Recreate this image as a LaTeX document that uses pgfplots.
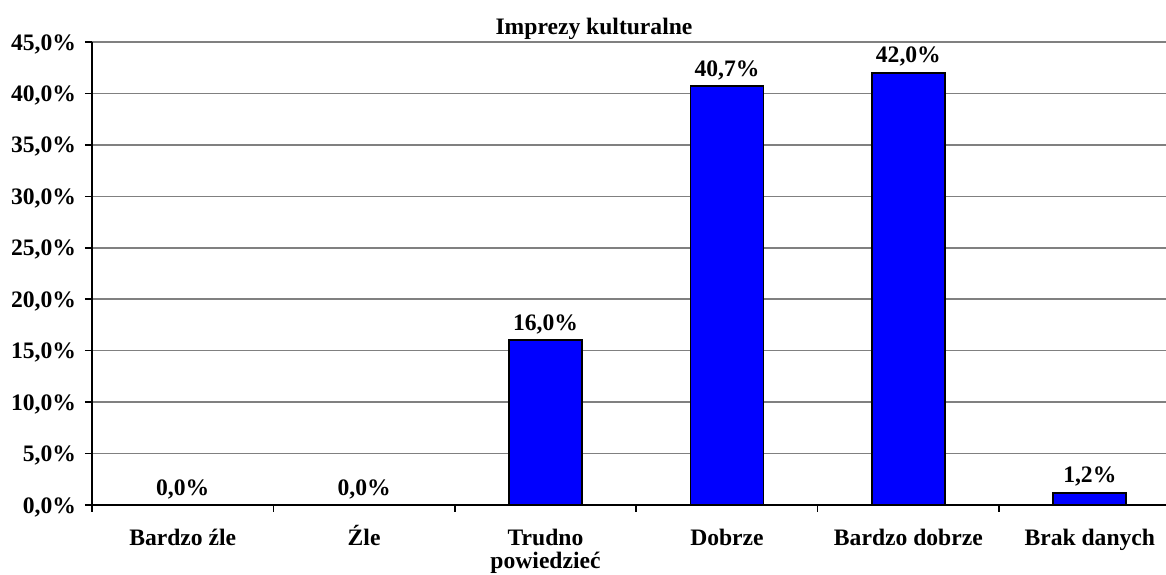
\documentclass[border=0pt]{standalone}
\usepackage{pgfplots}
\pgfplotsset{compat=1.18}
\usepackage{fontspec}
\setmainfont{Liberation Serif}
\definecolor{barblue}{RGB}{0,0,255}
\definecolor{gridgray}{RGB}{128,128,128}
\begin{document}
\begin{tikzpicture}
\begin{axis}[
  at={(0,0)}, anchor=south west,
  scale only axis, width=537pt, height=231.5pt,
  xmin=-0.5, xmax=5.42, ymin=0, ymax=45,
  axis x line=bottom, axis y line=left,
  axis line style={-, black, line width=0.8pt},
  ytick={0,5,...,45},
  ymajorgrids, grid style={gridgray, line width=0.8pt},
  tick align=outside, major tick length=3.5pt,
  ytick style={black, line width=0.8pt},
  xtick={0,1,2,3,4,5},
  xtick style={draw=none},
  xticklabels={Bardzo źle, Źle, {\begin{tabular}[t]{@{}c@{}}Trudno\\powiedzieć\end{tabular}}, Dobrze, Bardzo dobrze, Brak danych},
  xticklabel style={font=\fontsize{11.8}{11.8}\selectfont\bfseries, anchor=base, yshift=-16.5pt},
  /pgf/number format/assume math mode=true,
  yticklabel={\pgfmathprintnumber[fixed,fixed zerofill,precision=1,use comma]{\tick}\%},
  yticklabel style={font=\fontsize{11.8}{13}\selectfont\bfseries, xshift=-1pt, yshift=-1pt},
  title={Imprezy kulturalne},
  title style={font=\fontsize{11.8}{13}\selectfont\bfseries, at={(rel axis cs:0.4674,1)}, anchor=base, yshift=-2pt},
  ybar, bar width=36.5pt,
  nodes near coords={\pgfmathprintnumber[fixed,fixed zerofill,precision=1,use comma]{\pgfplotspointmeta}\%},
  every node near coord/.append style={font=\fontsize{11.8}{13}\selectfont\bfseries, anchor=base, yshift=5pt, black},
  clip=false,
]
\addplot[fill=barblue, draw=black, line width=0.9pt] coordinates {
  (0,0.0) (1,0.0) (2,16.0) (3,40.7) (4,42.0) (5,1.2)
};
\pgfplotsinvokeforeach{-0.5,0.5,1.5,2.5,3.5,4.5}{
  \draw[black, line width=0.8pt] (axis cs:#1,0) -- ([yshift=-3.5pt]axis cs:#1,0);
}
\end{axis}
\pgfresetboundingbox
\path (-46pt,-34.5pt) rectangle (537pt,252.5pt);
\end{tikzpicture}
\end{document}
